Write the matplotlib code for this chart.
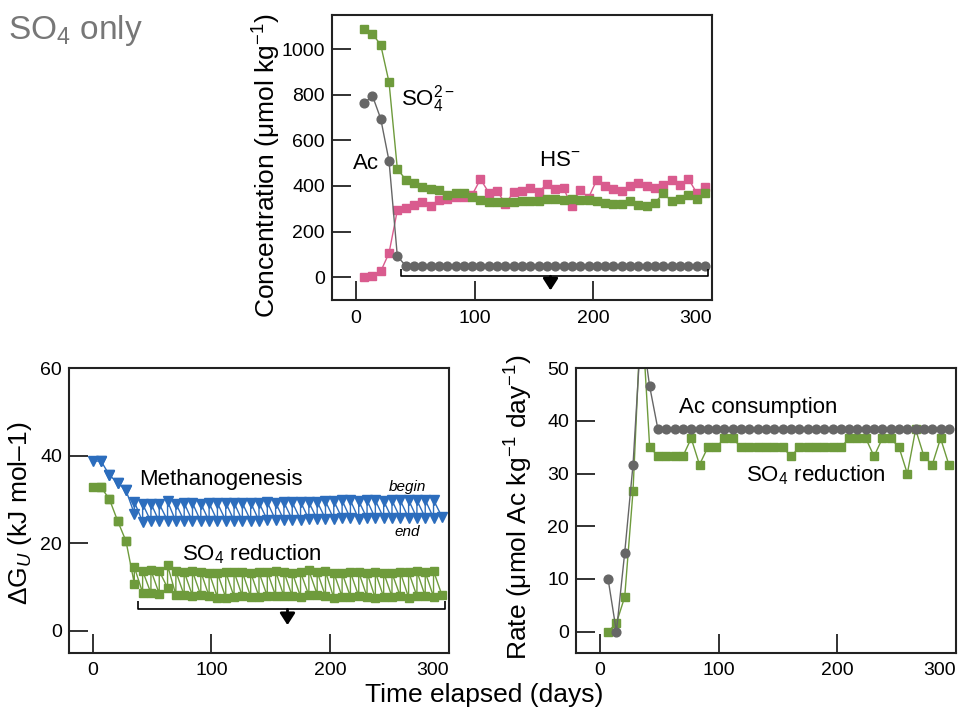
import matplotlib
matplotlib.use("Agg")
import matplotlib.pyplot as plt

plt.rcParams['font.family'] = ['Liberation Sans', 'DejaVu Sans']
plt.rcParams['mathtext.fontset'] = 'custom'
plt.rcParams['mathtext.rm'] = 'Liberation Sans'
plt.rcParams['mathtext.it'] = 'Liberation Sans:italic'
plt.rcParams['mathtext.bf'] = 'Liberation Sans:bold'

# ---------------- data ----------------
days = [7, 14, 21, 28, 35, 42, 49, 56, 63, 70, 77, 84, 91, 98, 105, 112, 119, 126,
        133, 140, 147, 154, 161, 168, 175, 182, 189, 196, 203, 210, 217, 224, 231,
        238, 245, 252, 259, 266, 273, 280, 287, 294]

so4_conc = [1089, 1067, 1019, 855, 475, 428, 415, 396, 387, 381, 359, 371, 367, 353,
            339, 328, 330, 328, 331, 336, 334, 334, 342, 343, 339, 345, 337, 337, 334,
            326, 321, 321, 333, 318, 314, 327, 367, 334, 343, 362, 343, 368]
hs_conc = [0, 4, 25, 106, 293, 302, 317, 330, 312, 340, 343, 350, 350, 361, 430, 371,
           378, 323, 372, 378, 389, 374, 408, 386, 389, 312, 383, 348, 427, 400, 386,
           377, 402, 411, 399, 391, 406, 427, 403, 432, 371, 396]
ac_conc = [762, 796, 695, 510, 92, 50, 50, 50, 50, 50, 50, 50, 50, 50, 50, 50, 50, 50,
           50, 50, 50, 50, 50, 50, 50, 50, 50, 50, 50, 50, 50, 50, 50, 50, 50, 50, 50,
           50, 50, 50, 50, 50]

# Gibbs energy: interval start days, value at begin (plotted at start) and end (plotted at start+7)
dg_start = [0, 7, 14, 21, 28, 35, 42, 49, 56, 63, 70, 77, 84, 91, 98, 105, 112, 119,
            126, 133, 140, 147, 154, 161, 168, 175, 182, 189, 196, 203, 210, 217, 224,
            231, 238, 245, 252, 259, 266, 273, 280, 287]
dg_end_day = [7, 14, 21, 28, 35, 42, 49, 56, 63, 70, 77, 84, 91, 98, 105, 112, 119, 126,
              133, 140, 147, 154, 161, 168, 175, 182, 189, 196, 203, 210, 217, 224, 231,
              238, 245, 252, 259, 266, 273, 280, 287, 294]
meth_begin = [38.8, 38.8, 35.6, 33.8, 32.1, 29.5, 29.0, 29.1, 29.0, 29.6, 29.1, 29.2,
              29.2, 29.1, 29.2, 29.2, 29.3, 29.3, 29.2, 29.3, 29.3, 29.4, 29.3, 29.4,
              29.4, 29.5, 29.4, 29.5, 29.6, 29.7, 29.8, 29.8, 29.7, 29.8, 29.8, 29.7,
              29.8, 29.8, 29.9, 29.8, 29.9, 29.9]
meth_end = [38.8, 35.6, 33.8, 32.1, 26.8, 24.9, 25.0, 25.0, 25.2, 25.0, 25.1, 25.0,
            25.0, 25.1, 25.1, 25.2, 25.2, 25.1, 25.2, 25.2, 25.3, 25.3, 25.3, 25.4,
            25.4, 25.5, 25.5, 25.6, 25.6, 25.7, 25.7, 25.6, 25.7, 25.7, 25.8, 25.7,
            25.8, 25.8, 25.8, 25.9, 25.8, 26.1]
sred_begin = [32.8, 32.8, 30.1, 25.1, 20.5, 14.6, 13.7, 13.8, 13.7, 15.0, 13.6, 13.5,
              13.6, 13.5, 13.3, 13.2, 13.4, 13.5, 13.4, 13.3, 13.4, 13.5, 13.6, 13.5,
              13.3, 13.4, 13.8, 13.5, 13.6, 13.3, 13.2, 13.4, 13.4, 13.3, 13.4, 13.3,
              13.2, 13.4, 13.5, 13.6, 13.4, 13.7]
sred_end = [32.8, 30.1, 25.1, 20.5, 10.8, 8.7, 8.6, 8.5, 9.8, 8.2, 8.1, 8.0, 8.1, 7.9,
            7.6, 7.6, 7.8, 7.9, 7.8, 7.8, 7.9, 8.0, 7.9, 7.9, 7.8, 8.1, 8.3, 7.9, 7.5,
            7.8, 7.8, 7.9, 7.8, 7.4, 7.7, 7.8, 7.9, 7.6, 7.9, 7.9, 7.8, 8.2]

ac_rate = [10.0, 0.0, 15.0, 31.7, 58.0, 46.6, 38.4, 38.4, 38.4, 38.4, 38.4, 38.4, 38.4,
           38.4, 38.4, 38.4, 38.4, 38.4, 38.4, 38.4, 38.4, 38.4, 38.4, 38.4, 38.4, 38.4,
           38.4, 38.4, 38.4, 38.4, 38.4, 38.4, 38.4, 38.4, 38.4, 38.4, 38.4, 38.4, 38.4,
           38.4, 38.4, 38.4]
so4_rate = [0.0, 1.6, 6.6, 26.7, 62.0, 35.1, 33.3, 33.3, 33.3, 33.3, 36.7, 31.7, 35.0,
            35.0, 36.7, 36.7, 35.0, 35.0, 35.0, 35.0, 35.0, 35.0, 33.3, 35.0, 35.0, 35.0,
            35.0, 35.0, 35.0, 36.7, 36.7, 36.7, 33.3, 36.7, 36.7, 35.0, 30.0, 38.4, 33.3,
            31.7, 36.7, 31.7]

x_ticks = [0, 100, 200, 300]
x_ticklabels = ['0', '100', '200', '300']

# steady-state bracket span (days) and arrow day
bracket_start, bracket_end, arrow_day = 38, 297, 164

GREEN = '#6e9b3c'
PINK = '#d95b8e'
GRAY = '#666666'
BLUE = '#2c6dbd'
TICK_FS = 14


def zigzag(start, end_day, begin, end):
    xs, ys = [], []
    for s, e, b, f in zip(start, end_day, begin, end):
        xs += [s, e]
        ys += [b, f]
    return xs, ys


def style(ax):
    for sp in ax.spines.values():
        sp.set_linewidth(1.5)
        sp.set_color('#222222')
    ax.tick_params(direction='in', length=14, width=1.3, labelsize=TICK_FS,
                   top=False, right=False, color='#222222')
    ax.tick_params(axis='x', pad=7)
    ax.tick_params(axis='y', pad=5)
    # x tick labels; the last one ("300") sits right-aligned at the frame edge
    ax.set_xticks(x_ticks, x_ticklabels[:-1] + [''])
    ax.annotate(x_ticklabels[-1], xy=(x_ticks[-1], 0),
                xycoords=('data', 'axes fraction'), xytext=(0, -7),
                textcoords='offset points', ha='right', va='top', fontsize=TICK_FS)


def bracket(ax, y, h, depth):
    ax.plot([bracket_start, bracket_start, bracket_end, bracket_end],
            [y + h, y, y, y + h], color='k', lw=1.2, solid_capstyle='butt')
    ax.annotate('', xy=(arrow_day, y - depth), xytext=(arrow_day, y),
                arrowprops=dict(arrowstyle='-|>,head_length=0.7,head_width=0.45',
                                color='k', lw=2.0, shrinkA=0, shrinkB=0))


fig = plt.figure(figsize=(9.61, 7.12), dpi=100)

# ---------------- top: concentrations ----------------
ax = fig.add_axes([0.3455, 0.5787, 0.3954, 0.4003])
ax.plot(days, hs_conc, '-s', color=PINK, ms=5.5, lw=1.0)
ax.plot(days, so4_conc, '-s', color=GREEN, ms=5.5, lw=1.0)
ax.plot(days, ac_conc, '-o', color=GRAY, ms=6.3, lw=1.0)
bracket(ax, 4, 30, 62)
ax.set_xlim(-20, 300)
ax.set_ylim(-100, 1150)
ax.set_yticks([0, 200, 400, 600, 800, 1000])
style(ax)
ax.set_ylabel('Concentration (μmol kg$^{-1}$)', fontsize=19)
ax.yaxis.set_label_coords(-0.128, 0.47)
ax.text(-2, 500, 'Ac', fontsize=16, va='center', ha='left')
ax.text(38, 779, r'SO$_4^{2-}$', fontsize=16, va='center', ha='left')
ax.text(154, 510, r'HS$^{-}$', fontsize=16, va='center', ha='left')

# ---------------- bottom left: Gibbs energy ----------------
ax = fig.add_axes([0.0718, 0.0833, 0.3954, 0.3994])
mx, my = zigzag(dg_start, dg_end_day, meth_begin, meth_end)
sx, sy = zigzag(dg_start, dg_end_day, sred_begin, sred_end)
ax.plot(mx, my, '-v', color=BLUE, ms=6.5, lw=1.0)
ax.plot(sx, sy, '-s', color=GREEN, ms=5.5, lw=1.0)
bracket(ax, 4.9, 1.9, 3.6)
ax.set_xlim(-20, 300)
ax.set_ylim(-5, 60)
ax.set_yticks([0, 20, 40, 60])
style(ax)
ax.set_ylabel(r'$\Delta\mathrm{G}_{U}$ (kJ mol–1)', fontsize=19)
ax.yaxis.set_label_coords(-0.092, 0.49)
ax.text(39, 34.6, 'Methanogenesis', fontsize=16, va='center', ha='left')
ax.text(75, 17.5, r'SO$_4$ reduction', fontsize=16, va='center', ha='left')
ax.text(265, 32.9, 'begin', fontsize=11, style='italic', va='center', ha='center')
ax.text(265, 22.7, 'end', fontsize=11, style='italic', va='center', ha='center')

# ---------------- bottom right: rates ----------------
ax = fig.add_axes([0.5994, 0.0833, 0.3954, 0.3994])
ax.plot(days, so4_rate, '-s', color=GREEN, ms=5.5, lw=1.0)
ax.plot(days, ac_rate, '-o', color=GRAY, ms=6.3, lw=1.0)
ax.set_xlim(-20, 300)
ax.set_ylim(-4, 50)
ax.set_yticks([0, 10, 20, 30, 40, 50])
style(ax)
ax.set_ylabel('Rate (μmol Ac kg$^{-1}$ day$^{-1}$)', fontsize=19)
ax.yaxis.set_label_coords(-0.108, 0.513)
ax.text(67, 42.5, 'Ac consumption', fontsize=16, va='center', ha='left')
ax.text(123, 29.7, r'SO$_4$ reduction', fontsize=16, va='center', ha='left')

fig.text(0.504, 0.024, 'Time elapsed (days)', fontsize=19, ha='center', va='center')
fig.text(0.008, 0.945, r'SO$_4$ only', fontsize=24, color='#777777', ha='left',
         va='baseline')

fig.savefig('out.png', dpi=100)
